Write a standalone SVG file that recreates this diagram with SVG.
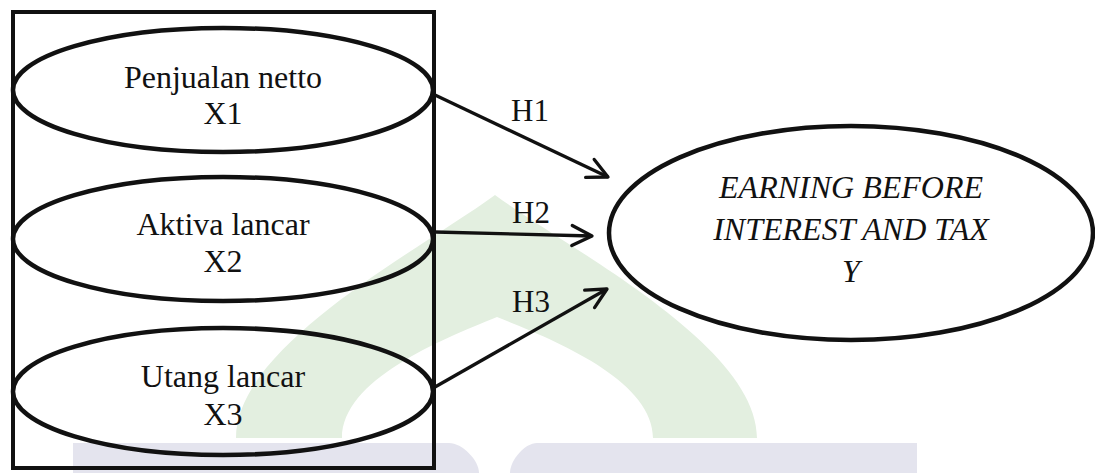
<svg xmlns="http://www.w3.org/2000/svg" width="1095" height="473" viewBox="0 0 1095 473">
<style>
.node{fill:none;stroke:#111;stroke-width:4.5}
.box{fill:none;stroke:#111;stroke-width:4}
.t{font-family:"Liberation Serif","Times New Roman",serif;font-size:32px;fill:#111;text-anchor:middle}
.ti{font-style:italic}
.lbl{font-family:"Liberation Serif","Times New Roman",serif;font-size:31px;fill:#111;text-anchor:middle}
.edge{stroke:#111;stroke-width:3.3;fill:none;marker-end:url(#arr)}
</style>
<defs>
<marker id="arr" markerUnits="userSpaceOnUse" markerWidth="30" markerHeight="30" refX="0" refY="0" orient="auto" overflow="visible">
<path d="M-20,-10 L0,0 L-20,10" fill="none" stroke="#111" stroke-width="3.3" stroke-linecap="round" stroke-linejoin="round"/>
</marker>
</defs>
<rect width="1095" height="473" fill="#fff"/>
<g id="watermark">
<path d="M236,438 C236,345 420,250 495,195 C570,250 757,345 757,438 L653,438 C653,380 555,340 497,317 C440,340 342,380 342,438 Z" fill="#e3efe0"/>
<path d="M73,443 L449,443 C462,443 479,460 479,473 L73,473 Z" fill="#e4e4ee"/>
<path d="M537,443 L917,443 L917,473 L510,473 C510,460 525,443 537,443 Z" fill="#e4e4ee"/>
</g>
<g id="group-box">
<rect class="box" x="13" y="12" width="421" height="456"/>
</g>
<g id="x1">
<ellipse class="node" cx="223" cy="90" rx="210" ry="62"/>
<text class="t" x="223" y="88">Penjualan netto</text>
<text class="t" x="223" y="124">X1</text>
</g>
<g id="x2">
<ellipse class="node" cx="223" cy="239" rx="210" ry="62"/>
<text class="t" x="223" y="235">Aktiva lancar</text>
<text class="t" x="223" y="272">X2</text>
</g>
<g id="x3">
<ellipse class="node" cx="223" cy="391.5" rx="210" ry="63.5"/>
<text class="t" x="223" y="387">Utang lancar</text>
<text class="t" x="223" y="425">X3</text>
</g>
<g id="y">
<ellipse class="node" cx="851" cy="233" rx="242" ry="107"/>
<text class="t ti" x="851" y="198">EARNING BEFORE</text>
<text class="t ti" x="851" y="240">INTEREST AND TAX</text>
<text class="t ti" x="851" y="282">Y</text>
</g>
<g id="connectors">
<line class="edge" x1="435" y1="95" x2="608" y2="177"/>
<line class="edge" x1="435" y1="232" x2="592" y2="236"/>
<line class="edge" x1="435" y1="387" x2="607" y2="289"/>
<text class="lbl" x="530" y="121">H1</text>
<text class="lbl" x="531" y="223">H2</text>
<text class="lbl" x="531" y="312">H3</text>
</g>
</svg>
